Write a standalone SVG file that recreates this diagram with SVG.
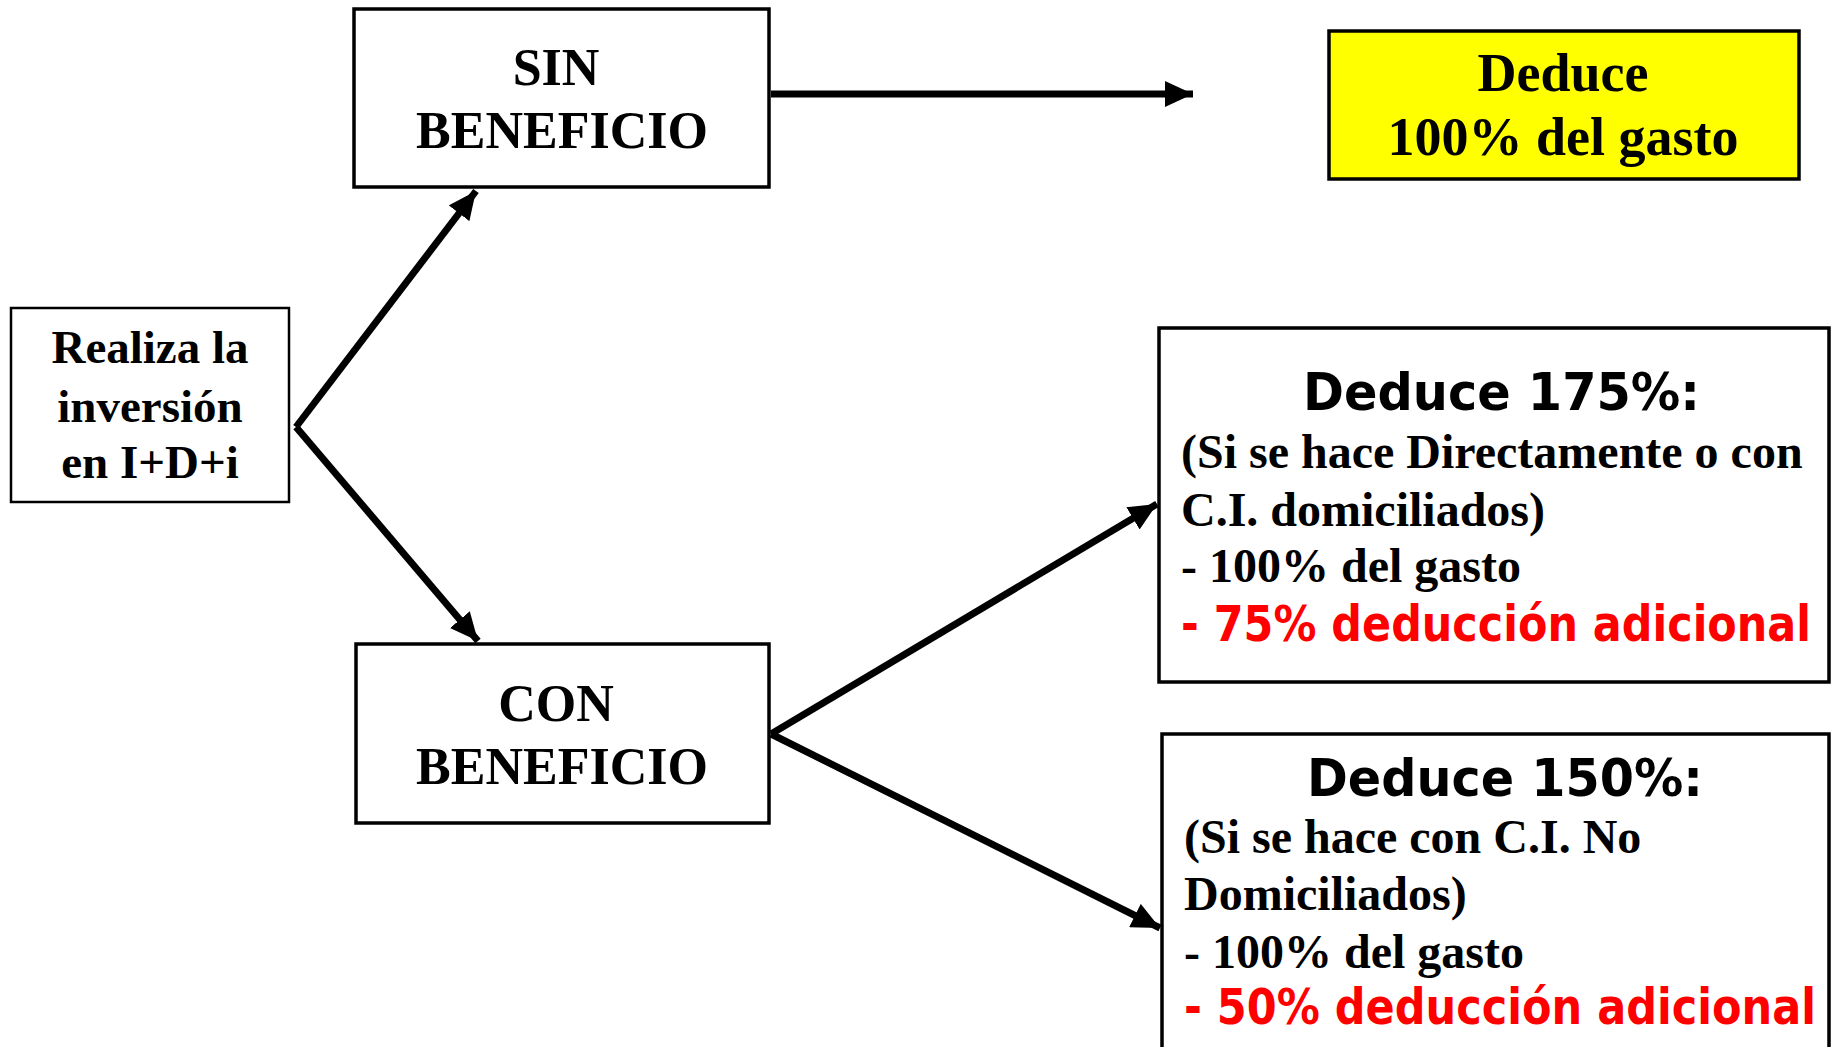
<svg xmlns="http://www.w3.org/2000/svg" width="1835" height="1047" viewBox="0 0 1835 1047">
<style>
.box{fill:#fff;stroke:#000;stroke-width:3.5}
.serif{font-family:"Liberation Serif","Times New Roman",serif;font-weight:bold;fill:#000}
.sans{font-family:"DejaVu Sans",Verdana,sans-serif;font-weight:bold;fill:#000}
.red{fill:#ff0000}
.conn{stroke:#000;stroke-width:7;fill:none}
</style>
<defs>
<marker id="ah" markerUnits="userSpaceOnUse" markerWidth="30" markerHeight="26" refX="28" refY="13" orient="auto">
<path d="M0,0 L28,13 L0,26 Z" fill="#000"/>
</marker>
</defs>
<rect width="1835" height="1047" fill="#fff"/>
<g id="connectors">
<line class="conn" x1="296" y1="427" x2="476" y2="191" marker-end="url(#ah)"/>
<line class="conn" x1="296" y1="427" x2="478" y2="641" marker-end="url(#ah)"/>
<line class="conn" x1="771" y1="94" x2="1193" y2="94" marker-end="url(#ah)"/>
<line class="conn" x1="771" y1="734" x2="1157" y2="504" marker-end="url(#ah)"/>
<line class="conn" x1="771" y1="734" x2="1160" y2="928" marker-end="url(#ah)"/>
</g>
<g id="node-realiza">
<rect class="box" x="11" y="308" width="278" height="194" style="stroke-width:2.5"/>
<text class="serif" font-size="47" text-anchor="middle"><tspan x="150" y="363">Realiza la</tspan><tspan x="150" y="422">inversión</tspan><tspan x="150" y="478">en I+D+i</tspan></text>
</g>
<g id="node-sin">
<rect class="box" x="354" y="9" width="415" height="178"/>
<text class="serif" font-size="52" text-anchor="middle"><tspan x="556" y="85">SIN</tspan><tspan x="562" y="148">BENEFICIO</tspan></text>
</g>
<g id="node-con">
<rect class="box" x="356" y="644" width="413" height="179"/>
<text class="serif" font-size="52" text-anchor="middle"><tspan x="556" y="721">CON</tspan><tspan x="562" y="784">BENEFICIO</tspan></text>
</g>
<g id="node-deduce100">
<rect class="box" x="1329" y="31" width="470" height="148" style="fill:#ffff00"/>
<text class="serif" font-size="54" text-anchor="middle"><tspan x="1563" y="91">Deduce</tspan><tspan x="1563" y="155">100% del gasto</tspan></text>
</g>
<g id="node-deduce175">
<rect class="box" x="1159" y="328" width="670" height="354"/>
<text class="sans" font-size="51" x="1303" y="410" textLength="397" lengthAdjust="spacingAndGlyphs">Deduce 175%:</text>
<text class="serif" font-size="48"><tspan x="1181" y="468">(Si se hace Directamente o con</tspan><tspan x="1181" y="526">C.I. domiciliados)</tspan><tspan x="1181" y="582">- 100% del gasto</tspan></text>
<text class="sans red" font-size="49" x="1181" y="641" textLength="630" lengthAdjust="spacingAndGlyphs">- 75% deducción adicional</text>
</g>
<g id="node-deduce150">
<rect class="box" x="1162" y="734" width="667" height="330"/>
<text class="sans" font-size="51" x="1307" y="796" textLength="396" lengthAdjust="spacingAndGlyphs">Deduce 150%:</text>
<text class="serif" font-size="48"><tspan x="1184" y="853">(Si se hace con C.I. No</tspan><tspan x="1184" y="910">Domiciliados)</tspan><tspan x="1184" y="968">- 100% del gasto</tspan></text>
<text class="sans red" font-size="49" x="1184" y="1024" textLength="632" lengthAdjust="spacingAndGlyphs">- 50% deducción adicional</text>
</g>
</svg>
